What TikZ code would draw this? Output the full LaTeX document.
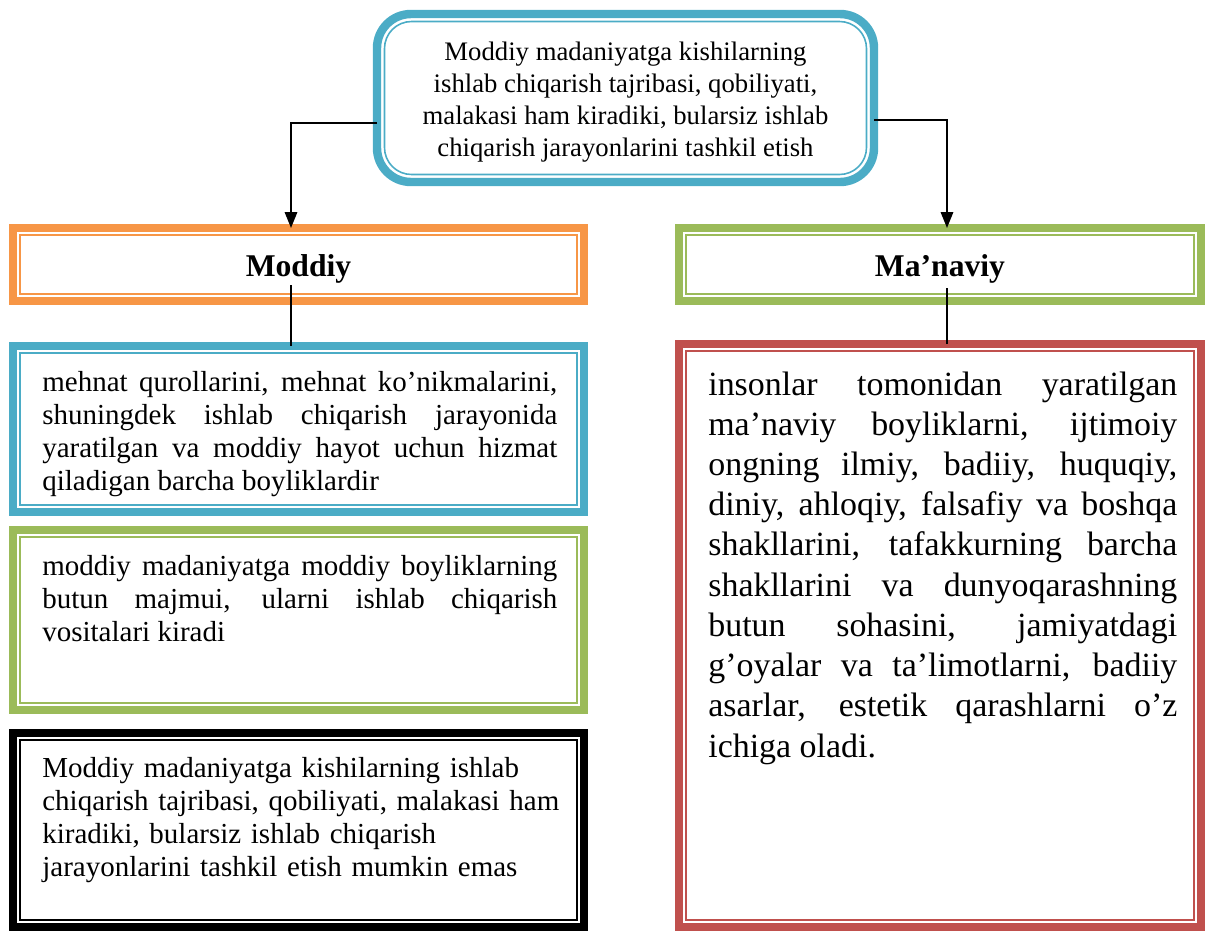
\documentclass[tikz,border=0pt]{standalone}
\usepackage{fontspec}
\setmainfont{Liberation Serif}
\usetikzlibrary{arrows.meta}
\definecolor{tealb}{HTML}{4BACC6}
\definecolor{orng}{HTML}{F79646}
\definecolor{leaf}{HTML}{9BBB59}
\definecolor{brick}{HTML}{C0504D}
\hyphenpenalty=10000
\exhyphenpenalty=10000

\tikzset{
  frame/.style={draw=#1,line width=4.5pt,minimum width=11.42cm,inner sep=0pt,outer sep=0pt},
  head/.style={inner sep=0pt,font=\bfseries\fontsize{18pt}{21pt}\selectfont},
  para/.style={inner sep=0pt,anchor=base west,text width=10.3cm,align=justify,
    font=\fontsize{16.5pt}{18.8pt}\selectfont},
  link/.style={line width=1.1pt},
}

\begin{document}
\begin{tikzpicture}
\useasboundingbox (0,0) rectangle (24.12,-18.64);
% top box
\node[draw=tealb,line width=4.8pt,outer sep=0pt,rounded corners=.68cm,minimum width=9.94cm,minimum height=3.36cm] (top) at (12.51,-1.96) {};
\draw[tealb,line width=.9pt,rounded corners=.54cm] ([shift={(.15,-.15)}]top.north west) rectangle ([shift={(-.15,.15)}]top.south east);
\node[align=center,inner sep=0pt,font=\fontsize{15.2pt}{18.3pt}\selectfont] (t0) at (12.51,-2.04)
  {Moddiy madaniyatga kishilarning\\ishlab chiqarish tajribasi, qobiliyati,\\malakasi ham kiradiki, bularsiz ishlab\\chiqarish jarayonlarini tashkil etish};
% headings
\node[frame=orng,minimum height=1.46cm] (moddiy) at (5.97,-5.29) {};
\node[frame=leaf,minimum width=10.44cm,minimum height=1.46cm] (manaviy) at (18.8,-5.29) {};
\node[head] (h1) at (5.97,-5.37) {Moddiy};
\node[head] (h2) at (18.8,-5.37) {Ma’naviy};
% boxes
\node[frame=tealb,minimum height=3.32cm] (mbox1) at (5.97,-8.58) {};
\node[frame=leaf,minimum height=3.6cm] (mbox2) at (5.97,-12.4) {};
\node[frame=black,minimum height=3.88cm] (mbox3) at (5.97,-16.6) {};
\node[frame=brick,minimum width=10.44cm,minimum height=11.66cm] (nbox) at (18.8,-12.71) {};
\foreach \n/\c in {moddiy/orng,manaviy/leaf,mbox1/tealb,mbox2/leaf,mbox3/black,nbox/brick}
  \draw[\c,line width=.9pt] ([shift={(.14,-.14)}]\n.north west) rectangle ([shift={(-.14,.14)}]\n.south east);
% texts
\node[para] (t1) at (0.84,-7.82) {mehnat qurollarini, mehnat ko’nikmalarini,\linebreak
  shuningdek ishlab chiqarish jarayonida\linebreak
  yaratilgan va moddiy hayot uchun hizmat\linebreak
  qiladigan barcha boyliklardir};
\node[para] (t2) at (0.84,-11.5) {moddiy madaniyatga moddiy boyliklarning\linebreak
  butun majmui, ularni ishlab chiqarish\linebreak
  vositalari kiradi};
\node[para,align=left,text width=10.8cm] (t3) at (0.84,-15.54) {Moddiy madaniyatga kishilarning ishlab\\
  chiqarish tajribasi, qobiliyati, malakasi ham\\
  kiradiki, bularsiz ishlab chiqarish\\
  jarayonlarini tashkil etish mumkin emas};
\node[para,text width=9.38cm,font=\fontsize{19.3pt}{22.9pt}\selectfont] (t4) at (14.16,-7.9)
  {insonlar tomonidan yaratilgan\linebreak
  ma’naviy boyliklarni, ijtimoiy\linebreak
  ongning ilmiy, badiiy, huquqiy,\linebreak
  diniy, ahloqiy, falsafiy va boshqa\linebreak
  shakllarini, tafakkurning barcha\linebreak
  shakllarini va dunyoqarashning\linebreak
  butun sohasini, jamiyatdagi\linebreak
  g’oyalar va ta’limotlarni, badiiy\linebreak
  asarlar, estetik qarashlarni o’z\linebreak
  ichiga oladi.};
% connectors
\coordinate (mdot) at (5.82,-5.7);
\coordinate (ndot) at (18.94,-5.76);
\draw[link,-{Triangle[width=7pt,length=9pt]}] ([yshift=-.5cm]top.west) -| ([xshift=-.15cm]moddiy.north);
\draw[link,-{Triangle[width=7pt,length=9pt]}] ([yshift=-.44cm]top.east) -| ([xshift=.14cm]manaviy.north);
\draw[link] (mdot) -- (mdot |- mbox1.north);
\draw[link] (ndot) -- (ndot |- nbox.north);
\end{tikzpicture}
\end{document}
